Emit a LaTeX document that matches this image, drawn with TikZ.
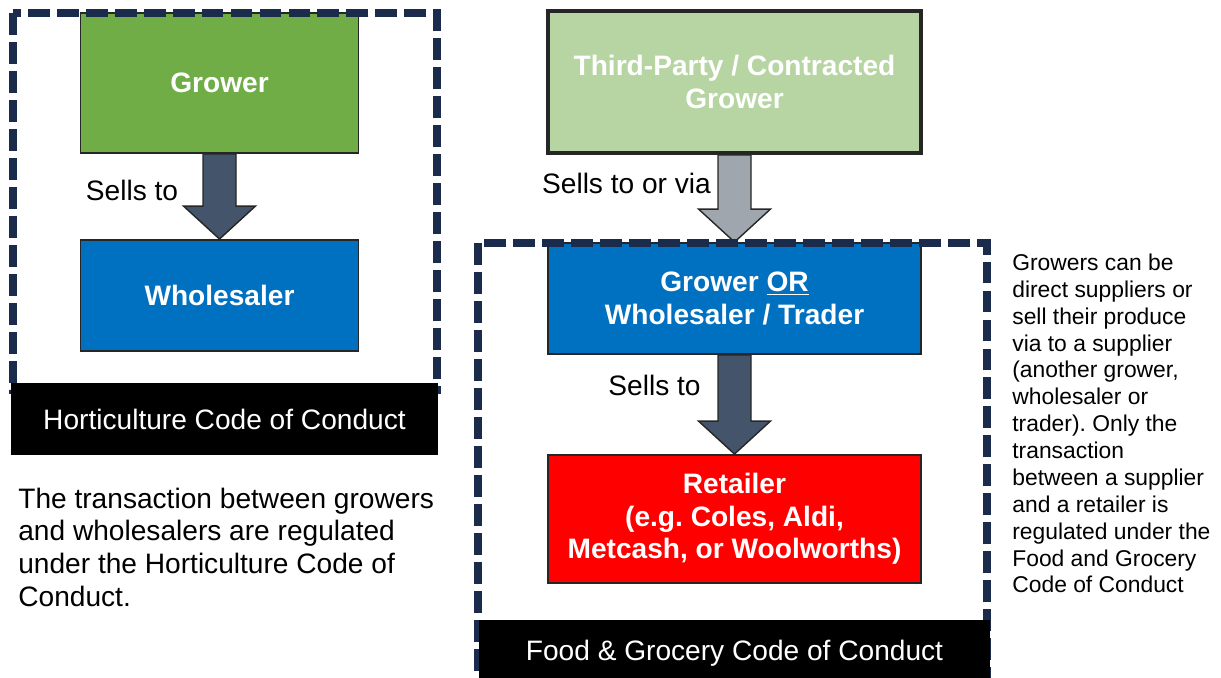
\documentclass[tikz,border=0pt]{standalone}
\usepackage{fontspec}
\setmainfont{Liberation Sans}
\usepackage{tikz}
\usetikzlibrary{calc}
\frenchspacing
\definecolor{growGreen}{HTML}{70AD47}
\definecolor{paleGreen}{HTML}{B7D5A2}
\definecolor{supBlue}{HTML}{0070C0}
\definecolor{retRed}{HTML}{FF0000}
\definecolor{slate}{HTML}{44546A}
\definecolor{ashGrey}{HTML}{A0A6AE}
\definecolor{zoneNavy}{HTML}{1B2B4B}
\tikzset{
  box/.style={rectangle, draw=black!85, line width=1.1pt, text=white, align=center,
              font={\fontsize{16}{18.6}\selectfont\bfseries}},
  greenbox/.style={box, fill=growGreen, minimum width=5.56cm, minimum height=2.8cm},
  palebox/.style={box, fill=paleGreen, line width=2.3pt, minimum width=7.46cm, minimum height=2.84cm},
  bluebox/.style={box, fill=supBlue},
  redbox/.style={box, fill=retRed, minimum width=7.46cm, minimum height=2.56cm},
  codebar/.style={rectangle, fill=black, text=white, font={\fontsize{16}{18.6}\selectfont}},
  zone/.style={draw=zoneNavy, line width=4pt, dash pattern=on 12.5pt off 4pt},
  fatarrow/.style={draw=black!85, line width=0.8pt, line join=miter},
  lbl/.style={font={\fontsize{16}{18.6}\selectfont}},
  note/.style={align=left, anchor=west, inner sep=0pt},
}
% block arrow from the bottom of #1 to the top of #2
\newcommand{\sellarrow}[3]{%
  \draw[fatarrow, fill=#3] ($(#1.south)+(-16.5,0)$) -- ($(#1.south)+(16.5,0)$)
    -- ($(#2.north)+(16.5,-33)$) -- ($(#2.north)+(36,-33)$) -- (#2.north)
    -- ($(#2.north)+(-36,-33)$) -- ($(#2.north)+(-16.5,-33)$) -- cycle;}
\begin{document}
\begin{tikzpicture}[x=0.02cm, y=-0.02cm]
  \useasboundingbox (0,0) rectangle (1221,677);

  % Horticulture side
  \node[greenbox] (grower) at (219.5,83) {Grower};
  \node[bluebox, minimum width=5.56cm, minimum height=2.22cm] (wholesaler) at (219.5,295.5) {Wholesaler};
  \sellarrow{grower}{wholesaler}{slate}
  \node[lbl] (sellsA) at (132,190) {Sells to};

  % Food and grocery side
  \node[palebox] (contract) at (734.5,82) {Third-Party / Contracted\\Grower};
  \node[bluebox, minimum width=7.46cm, minimum height=2.22cm] (supplier) at (734.5,298.5)
       {Grower \underline{OR}\\Wholesaler / Trader};
  \node[redbox] (retailer) at (734.5,519) {Retailer\\(e.g. Coles, Aldi,\\Metcash, or Woolworths)};
  \sellarrow{contract}{supplier}{ashGrey}
  \sellarrow{supplier}{retailer}{slate}
  \node[lbl] (sellsB) at (626.5,183) {Sells to or via};
  \node[lbl] (sellsC) at (654.5,385) {Sells to};

  % dashed regulation zones
  \draw[zone] (13,13) rectangle (437,390);
  \draw[zone] (478,243) rectangle (987,690);
  \node[codebar, minimum width=8.54cm, minimum height=1.44cm] (hortCode) at (224.5,419)
       {Horticulture Code of Conduct};
  \node[codebar, minimum width=10.22cm, minimum height=1.32cm] (fgCode) at (734.5,653)
       {Food \& Grocery Code of Conduct};

  % explanations
  \node[note, font={\fontsize{16}{18.6}\selectfont}] (hortNote) at (18,547)
       {The transaction between growers\\and wholesalers are regulated\\under the Horticulture Code of\\Conduct.};
  \node[note, font={\fontsize{13}{15.3}\selectfont}] (fgNote) at (1012,423.5)
       {Growers can be\\direct suppliers or\\sell their produce\\via to a supplier\\(another grower,\\wholesaler or\\trader). Only the\\transaction\\between a supplier\\and a retailer is\\regulated under the\\Food and Grocery\\Code of Conduct};
\end{tikzpicture}
\end{document}
